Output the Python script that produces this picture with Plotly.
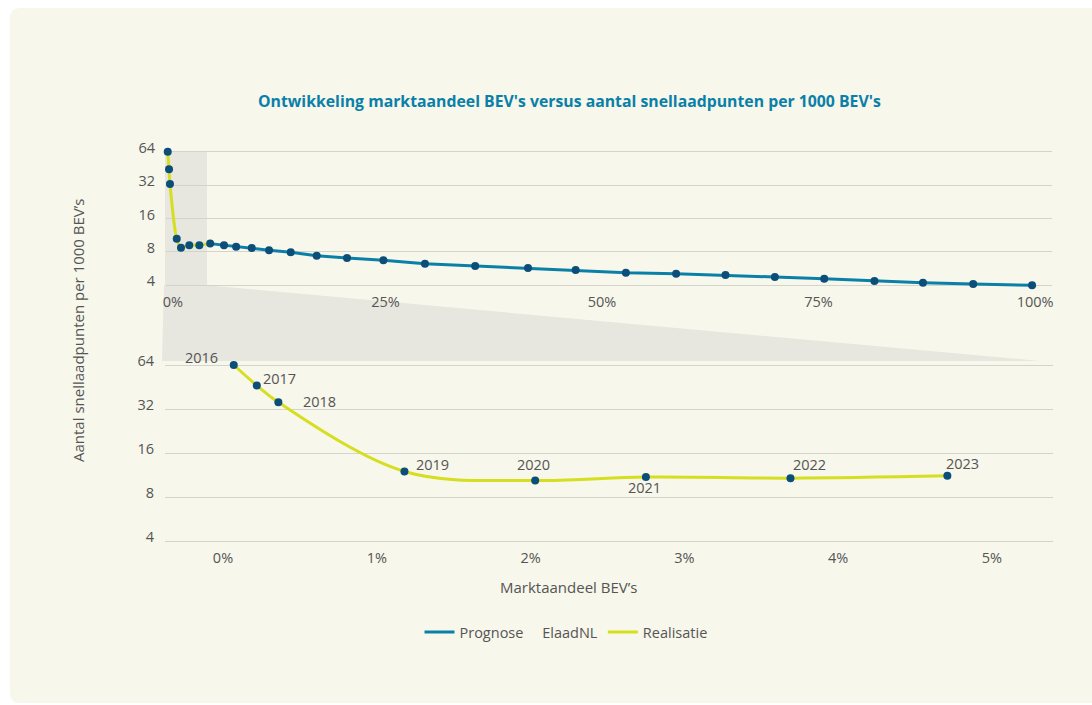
import numpy as np
import plotly.graph_objects as go

W, H = 1092, 705

# ---------------- data ----------------
# Top panel: full market-share range (0-100 %)
top_real_x = [0.2, 0.35, 0.46, 1.24, 1.73, 2.69, 3.85, 5.1]
top_real_y = [64, 44.4, 32.7, 10.5, 8.7, 9.2, 9.2, 9.5]
prog_x = [5.1, 6.7, 8.1, 9.9, 11.9, 14.4, 17.4, 20.9, 25.1, 29.9, 35.7, 41.8,
          47.3, 53.1, 58.9, 64.6, 70.3, 76.0, 81.8, 87.4, 93.2, 100.0]
prog_y = [9.5, 9.18, 8.91, 8.68, 8.27, 7.93, 7.39, 7.05, 6.72, 6.26, 5.97, 5.73,
          5.49, 5.20, 5.09, 4.95, 4.75, 4.59, 4.37, 4.22, 4.11, 4.0]

# Bottom panel: zoom on realisation (0-5 %)
years = ["2016", "2017", "2018", "2019", "2020", "2021", "2022", "2023"]
real_x = [0.07, 0.22, 0.36, 1.18, 2.03, 2.75, 3.69, 4.71]
real_y = [64, 46.4, 35.6, 12.0, 10.4, 11.0, 10.8, 11.2]

y_ticks = [4, 8, 16, 32, 64]
y_ticktext = ["4", "8", "16", "32", "64"]
top_x_ticks = [0, 25, 50, 75, 100]
top_x_ticktext = ["&nbsp;&nbsp;0%", "25%", "50%", "75%", "100%"]
bot_x_ticks = [0, 1, 2, 3, 4, 5]
bot_x_ticktext = ["0%", "1%", "2%", "3%", "4%", "5%"]

title = "Ontwikkeling marktaandeel BEV's versus aantal snellaadpunten per 1000 BEV's"
x_title = "Marktaandeel BEV’s"
y_title = "Aantal snellaadpunten per 1000 BEV’s"
prog_name = "Prognose&nbsp;&nbsp;&nbsp;&nbsp;&nbsp;ElaadNL"
real_name = "Realisatie"

# ---------------- style ----------------
BLUE = "#0A80A8"
NAVY = "#0B4E79"
YELLOW = "#D5DF1F"
CARD = "#F7F7EB"
SHADE = "#E7E6DF"
GRID = "#D4D4CE"
TXT = "#555555"
FONT = "Open Sans"


def px(x):
    return x / W


def py(y):
    return 1 - y / H


fig = go.Figure()

# top panel traces
fig.add_trace(go.Scatter(x=prog_x, y=prog_y, mode="lines", name=prog_name,
                         line=dict(color=BLUE, width=3), xaxis="x", yaxis="y",
                         cliponaxis=False))
fig.add_trace(go.Scatter(x=top_real_x, y=top_real_y, mode="lines", name=real_name,
                         line=dict(color=YELLOW, width=3, shape="spline", smoothing=0.6),
                         xaxis="x", yaxis="y", cliponaxis=False))
fig.add_trace(go.Scatter(x=top_real_x + prog_x[1:], y=top_real_y + prog_y[1:],
                         mode="markers", marker=dict(color=NAVY, size=8),
                         showlegend=False, xaxis="x", yaxis="y", cliponaxis=False))

# bottom panel traces
fig.add_trace(go.Scatter(x=real_x, y=real_y, mode="lines", name=real_name,
                         line=dict(color=YELLOW, width=3, shape="spline", smoothing=1.0),
                         showlegend=False, xaxis="x2", yaxis="y2", cliponaxis=False))
fig.add_trace(go.Scatter(x=real_x, y=real_y, mode="markers", text=years,
                         marker=dict(color=NAVY, size=8), showlegend=False,
                         xaxis="x2", yaxis="y2", cliponaxis=False))

# year labels
LBL = 14.5
label_pos = {
    "2016": ("right", -14, 8),
    "2017": ("left", 4, 7),
    "2018": ("left", 23, 1),
    "2019": ("left", 10, 7),
    "2020": ("center", -2, 16),
    "2021": ("center", -1, -11),
    "2022": ("left", 1, 14),
    "2023": ("left", -3, 12),
}
annotations = []
for yr, xv, yv in zip(years, real_x, real_y):
    anc, xs, ys = label_pos[yr]
    annotations.append(dict(x=xv, y=np.log10(yv), xref="x2", yref="y2", text=yr,
                            showarrow=False, xanchor=anc, yanchor="middle",
                            xshift=xs, yshift=ys,
                            font=dict(family=FONT, size=LBL, color=TXT)))

annotations.append(dict(x=px(569), y=py(101), xref="paper", yref="paper",
                        text="<b>" + title + "</b>", showarrow=False,
                        xanchor="center", yanchor="middle",
                        font=dict(family=FONT, size=15.8, color=BLUE)))
annotations.append(dict(x=px(568), y=py(587), xref="paper", yref="paper",
                        text=x_title, showarrow=False, xanchor="center",
                        yanchor="middle", font=dict(family=FONT, size=15, color=TXT)))
annotations.append(dict(x=px(78), y=py(330), xref="paper", yref="paper",
                        text=y_title, showarrow=False, textangle=-90,
                        xanchor="center", yanchor="middle",
                        font=dict(family=FONT, size=15, color=TXT)))

# shapes: card, shaded zoom box and wedge
r = 10
card_path = (f"M {px(10)},{py(8 + r)} Q {px(10)},{py(8)} {px(10 + r)},{py(8)} "
             f"L {px(1110)},{py(8)} L {px(1110)},{py(703)} "
             f"L {px(10 + r)},{py(703)} Q {px(10)},{py(703)} {px(10)},{py(703 - r)} Z")
wedge_path = (f"M {px(164)},{py(285.3)} L {px(207)},{py(285.3)} "
              f"L {px(1040)},{py(361)} L {px(162)},{py(361)} Z")
shapes = [
    dict(type="path", path=card_path, xref="paper", yref="paper",
         fillcolor=CARD, line=dict(width=0), layer="below"),
    dict(type="rect", x0=px(165), x1=px(207), y0=py(285.3), y1=py(151.7),
         xref="paper", yref="paper", fillcolor=SHADE, line=dict(width=0),
         layer="below"),
    dict(type="path", path=wedge_path, xref="paper", yref="paper",
         fillcolor=SHADE, line=dict(width=0), layer="below"),
]

# y-axes: gridlines 4..64 sit on given pixel rows; pad range by 2px so edge
# gridlines are drawn
PAD = 2.0
top_g64, top_g4 = 151.7, 285.3
bot_g64, bot_g4 = 365.0, 541.3
top_ppu = (top_g4 - top_g64) / np.log10(16)
bot_ppu = (bot_g4 - bot_g64) / np.log10(16)

tickfont = dict(family=FONT, size=14.5, color=TXT)
yax_common = dict(type="log", tickvals=y_ticks, ticktext=y_ticktext, showgrid=True,
                  gridcolor=GRID, gridwidth=1, zeroline=False, showline=False,
                  ticks="", tickfont=tickfont, ticklabelstandoff=10,
                  ticklabelshift=-4, fixedrange=True, automargin=False)
xax_common = dict(showgrid=False, zeroline=False, showline=False, ticks="",
                  tickfont=tickfont, fixedrange=True, automargin=False)

fig.update_layout(
    width=W, height=H, autosize=False,
    margin=dict(l=0, r=0, t=0, b=0, pad=0, autoexpand=False),
    paper_bgcolor="white", plot_bgcolor="rgba(0,0,0,0)",
    font=dict(family=FONT, size=14, color=TXT),
    xaxis=dict(domain=[px(166), px(1052)], range=[0, 102.3], tickvals=top_x_ticks,
               ticktext=top_x_ticktext, anchor="y", ticklabelshift=3,
               ticklabelstandoff=4, **xax_common),
    yaxis=dict(domain=[py(top_g4 + PAD), py(top_g64 - PAD)], anchor="x",
               range=[np.log10(4) - PAD / top_ppu, np.log10(64) + PAD / top_ppu],
               **yax_common),
    xaxis2=dict(domain=[px(165), px(1052.7)], range=[-0.377, 5.395],
                tickvals=bot_x_ticks, ticktext=bot_x_ticktext, anchor="y2",
                ticklabelstandoff=4, **xax_common),
    yaxis2=dict(domain=[py(bot_g4 + PAD), py(bot_g64 - PAD)], anchor="x2",
                range=[np.log10(4) - PAD / bot_ppu, np.log10(64) + PAD / bot_ppu],
                **yax_common),
    showlegend=True,
    legend=dict(orientation="h", x=px(566), xanchor="center", y=py(632),
                yanchor="middle", bgcolor="rgba(0,0,0,0)", itemwidth=30,
                font=dict(family=FONT, size=14.5, color=TXT)),
    annotations=annotations,
    shapes=shapes,
    hovermode="closest",
)

fig.write_html("out.html")
